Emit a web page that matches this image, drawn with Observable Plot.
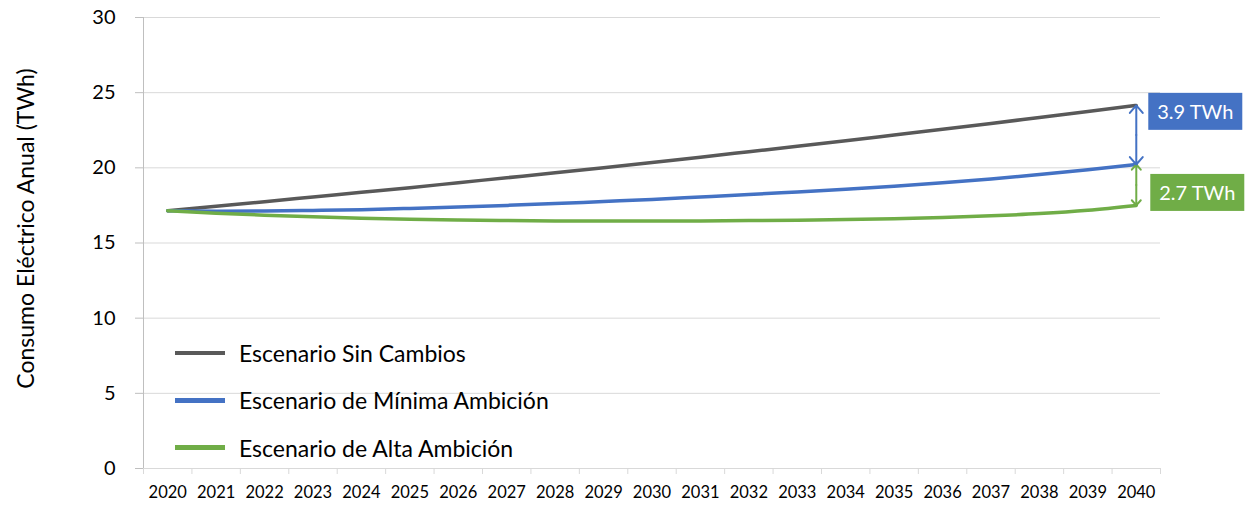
<!DOCTYPE html>
<html>
<head>
<meta charset="utf-8">
<script src="https://cdn.jsdelivr.net/npm/d3@7"></script>
<script src="https://cdn.jsdelivr.net/npm/@observablehq/plot@0.6"></script>
<style>
  html, body { margin: 0; padding: 0; background: #fff; }
  #wrap { position: relative; width: 1249px; height: 508px; font-family: Lato, "Open Sans", sans-serif; }
  #legend { position: absolute; left: 175px; top: 329.5px; }
  .row { display: flex; align-items: center; height: 47.3px; }
  .sw { width: 50px; height: 4.5px; margin-right: 14px; }
  .lab { font-size: 23px; color: #000; white-space: nowrap; }
</style>
</head>
<body>
<div id="wrap"></div>
<script>
const years = [2020,2021,2022,2023,2024,2025,2026,2027,2028,2029,2030,2031,2032,2033,2034,2035,2036,2037,2038,2039,2040];
const sinCambios = [17.15,17.45,17.75,18.06,18.37,18.68,19.01,19.34,19.67,20.01,20.36,20.71,21.07,21.43,21.80,22.18,22.56,22.95,23.35,23.75,24.15];
const minimaAmbicion = [17.15,17.12,17.13,17.17,17.22,17.30,17.39,17.50,17.62,17.76,17.90,18.06,18.22,18.40,18.58,18.78,19.00,19.25,19.55,19.87,20.22];
const altaAmbicion = [17.15,16.98,16.85,16.74,16.65,16.58,16.53,16.49,16.47,16.46,16.46,16.47,16.49,16.52,16.56,16.62,16.70,16.81,16.96,17.18,17.50];
const seriesNames = ["Escenario Sin Cambios","Escenario de Mínima Ambición","Escenario de Alta Ambición"];
const seriesColors = ["#595959","#4472C4","#70AD47"];
const yTicks = [0,5,10,15,20,25,30];
const yTitle = "Consumo Eléctrico Anual (TWh)";
const diffLabels = ["3.9 TWh","2.7 TWh"];

const allSeries = [sinCambios, minimaAmbicion, altaAmbicion];
const rows = [];
allSeries.forEach((vals, i) => vals.forEach((v, j) => rows.push({year: years[j], value: v, series: seriesNames[i]})));
const last = years.length - 1;
const lastYear = years[last];
const annot = [
  {year: lastYear, top: sinCambios[last], bottom: minimaAmbicion[last], label: diffLabels[0], color: seriesColors[1]},
  {year: lastYear, top: minimaAmbicion[last], bottom: altaAmbicion[last], label: diffLabels[1], color: seriesColors[2]}
];
annot.forEach(a => a.mid = (a.top + a.bottom) / 2);
const boundaries = years.map(y => y - 0.5).concat([lastYear + 0.5]);
const xMin = years[0] - 0.5, xMax = lastYear + 0.5;
const arrowOpts = {stroke: "color", strokeWidth: 2, headLength: 10.5, headAngle: 82};

const chart = Plot.plot({
  width: 1249, height: 508,
  marginLeft: 143, marginRight: 89, marginTop: 17, marginBottom: 40,
  style: {fontFamily: "Lato, 'Open Sans', sans-serif", background: "#fff", color: "#000"},
  x: {type: "linear", domain: [xMin, xMax]},
  y: {domain: [0, 30]},
  marks: [
    Plot.gridY(yTicks, {stroke: "#D9D9D9", strokeOpacity: 1}),
    Plot.ruleY([0], {stroke: "#D9D9D9"}),
    Plot.axisX({ticks: boundaries, tickSize: 6, stroke: "#D9D9D9", strokeOpacity: 1, tickFormat: () => "", label: null}),
    Plot.axisX({ticks: years, tickSize: 0, tickPadding: 18, tickFormat: "d", fontSize: 16.5, fill: "#000", label: null}),
    Plot.axisY({ticks: yTicks, tickSize: 8, stroke: "#BFBFBF", strokeOpacity: 1, tickFormat: () => "", label: null}),
    Plot.axisY({ticks: yTicks, tickSize: 0, tickPadding: 28, fontSize: 20, fill: "#000", label: null}),
    Plot.ruleX([xMin], {stroke: "#BFBFBF"}),
    Plot.text([yTitle], {frameAnchor: "left", rotate: -90, dx: -117, dy: -14.5, fontSize: 23, fill: "#000", textAnchor: "middle"}),
    Plot.line(rows, {x: "year", y: "value", z: "series", stroke: d => seriesColors[seriesNames.indexOf(d.series)], strokeWidth: 3.5, curve: "monotone-x"}),
    Plot.arrow(annot, {x1: "year", x2: "year", y1: "mid", y2: "top", ...arrowOpts}),
    Plot.arrow(annot, {x1: "year", x2: "year", y1: "mid", y2: "bottom", ...arrowOpts}),
    Plot.text([annot[0]], {x: "year", y: "top", text: "label", dx: 59, dy: 7.5, fill: "#fff", fontSize: 20, className: "annlab"}),
    Plot.text([annot[1]], {x: "year", y: "top", text: "label", dx: 61, dy: 29.5, fill: "#fff", fontSize: 20, className: "annlab"})
  ]
});
const wrap = document.getElementById("wrap");
wrap.appendChild(chart);

// background boxes behind annotation labels
const boxColors = annot.map(a => a.color);
chart.querySelectorAll(".annlab text").forEach((t, i) => {
  const b = t.getBBox();
  const cx = b.x + b.width / 2, cy = b.y + b.height / 2;
  const rect = document.createElementNS("http://www.w3.org/2000/svg", "rect");
  rect.setAttribute("x", cx - 47);
  rect.setAttribute("y", cy - 18.5);
  rect.setAttribute("width", 94);
  rect.setAttribute("height", 37);
  rect.setAttribute("fill", boxColors[i]);
  if (t.getAttribute("transform")) rect.setAttribute("transform", t.getAttribute("transform"));
  t.parentNode.insertBefore(rect, t);
});

const legend = document.createElement("div");
legend.id = "legend";
seriesNames.forEach((name, i) => {
  const r = document.createElement("div");
  r.className = "row";
  const sw = document.createElement("div");
  sw.className = "sw";
  sw.style.background = seriesColors[i];
  const lab = document.createElement("div");
  lab.className = "lab";
  lab.textContent = name;
  r.appendChild(sw); r.appendChild(lab);
  legend.appendChild(r);
});
wrap.appendChild(legend);
</script>
</body>
</html>
